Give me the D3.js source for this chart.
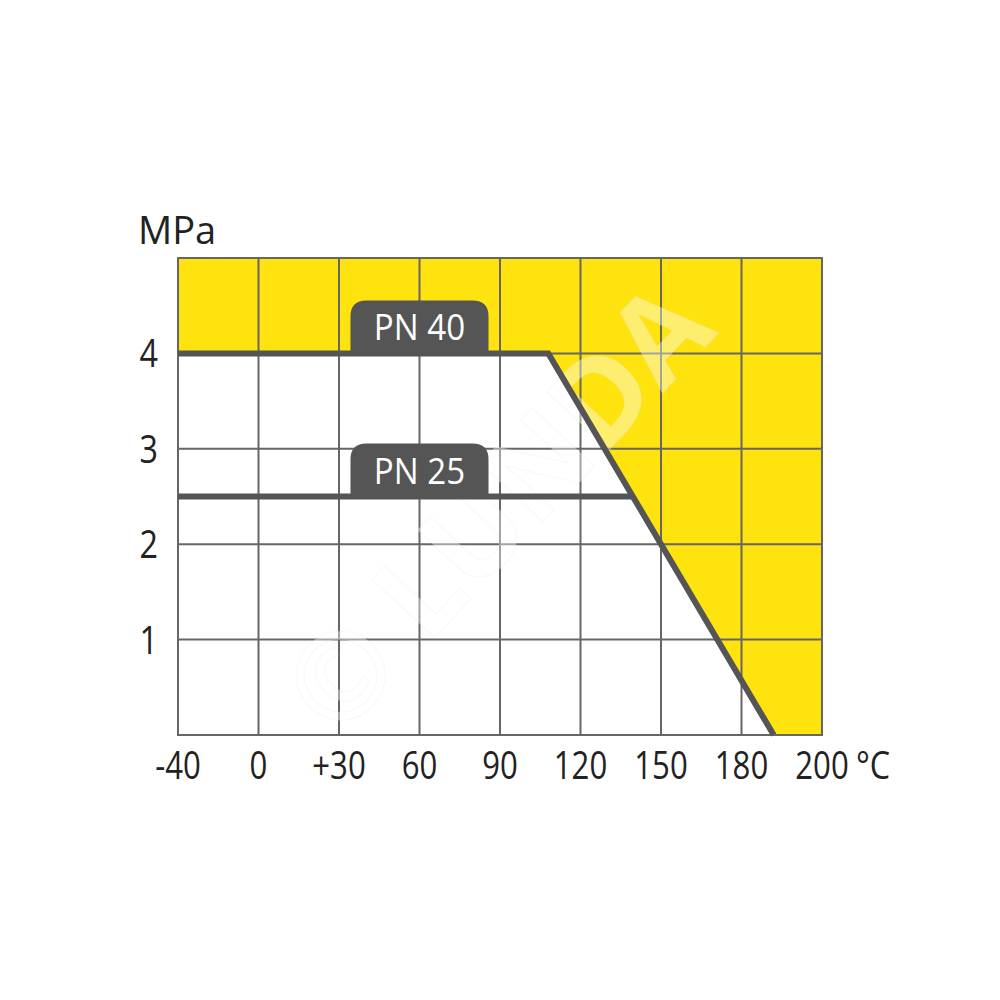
<!DOCTYPE html>
<html>
<head>
<meta charset="utf-8">
<script src="https://cdn.jsdelivr.net/npm/d3@7"></script>
<style>
  body { margin: 0; background: #fff; }
  text { font-family: 'Open Sans', 'Noto Sans', sans-serif; }
</style>
</head>
<body>
<div id="chart"></div>
<script>
// chart parameters
var width = 1000, height = 1000;
var plotLeft = 178, plotRight = 822, plotTop = 258, plotBottom = 735;

// data
var tempTicks = [-40, 0, 30, 60, 90, 120, 150, 180, 200];
var tempLabels = ['-40', '0', '+30', '60', '90', '120', '150', '180', '200'];
var pressTicks = [1, 2, 3, 4];
var pn40 = [[-40, 4], [108, 4], [188, 0]];
var pn25 = [[-40, 2.5], [139, 2.5]];
var labels = [{ text: 'PN 40', t: 60, p: 4 }, { text: 'PN 25', t: 60, p: 2.5 }];

var svg = d3.select('#chart')
    .append('svg')
    .attr('width', width)
    .attr('height', height);

// temperature axis is evenly spaced per tick, not linear
var xScale = d3.scaleLinear()
    .domain(tempTicks)
    .range(tempTicks.map(function(d, i){ return plotLeft + i * (plotRight - plotLeft) / (tempTicks.length - 1); }));

var yScale = d3.scaleLinear()
    .domain([0, 5])
    .range([plotBottom, plotTop]);

var line = d3.line()
    .x(function(d){ return xScale(d[0]); })
    .y(function(d){ return yScale(d[1]); });

// narrow text helper (font in the original is condensed)
function label(g, x, y, str, size, sx, anchor, fill){
    return g.append('text')
        .attr('transform', 'translate(' + x + ',' + y + ') scale(' + sx + ',1)')
        .attr('text-anchor', anchor)
        .attr('font-size', size)
        .attr('fill', fill)
        .text(str);
}

// yellow region above the PN 40 curve
var yellow = [[-40, 5], [200, 5], [200, 0]].concat(pn40.slice().reverse());
svg.append('path')
    .attr('d', line(yellow) + 'Z')
    .attr('fill', '#fee30f');

// grid
svg.append('g').selectAll('line')
    .data(tempTicks)
    .enter()
    .append('line')
    .attr('x1', function(d){ return xScale(d); })
    .attr('x2', function(d){ return xScale(d); })
    .attr('y1', plotTop)
    .attr('y2', plotBottom)
    .attr('stroke', '#666')
    .attr('stroke-width', 2);

svg.append('g').selectAll('line')
    .data([0, 1, 2, 3, 4, 5])
    .enter()
    .append('line')
    .attr('x1', plotLeft - 1)
    .attr('x2', plotRight + 1)
    .attr('y1', function(d){ return yScale(d); })
    .attr('y2', function(d){ return yScale(d); })
    .attr('stroke', '#666')
    .attr('stroke-width', 2);

// watermark
svg.append('text')
    .attr('transform', 'translate(505,515) rotate(-47)')
    .attr('text-anchor', 'middle')
    .attr('dominant-baseline', 'middle')
    .attr('font-size', 120)
    .attr('font-weight', 'bold')
    .attr('fill', '#fff')
    .attr('fill-opacity', 0.4)
    .attr('stroke', '#ddd')
    .attr('stroke-opacity', 0.2)
    .text('© LUNDA');

// curves
[pn25, pn40].forEach(function(s){
    svg.append('path')
        .attr('d', line(s))
        .attr('fill', 'none')
        .attr('stroke', '#555')
        .attr('stroke-width', 6)
        .attr('stroke-linejoin', 'miter');
});

// label tabs
var tabW = 138, tabH = 53, rad = 16;
labels.forEach(function(l){
    var cx = xScale(l.t), by = yScale(l.p), x0 = cx - tabW / 2, x1 = cx + tabW / 2, ty = by - tabH;
    svg.append('path')
        .attr('d', 'M' + x0 + ',' + by + 'V' + (ty + rad) + 'Q' + x0 + ',' + ty + ' ' + (x0 + rad) + ',' + ty +
            'H' + (x1 - rad) + 'Q' + x1 + ',' + ty + ' ' + x1 + ',' + (ty + rad) + 'V' + by + 'Z')
        .attr('fill', '#555');
    label(svg, cx, by - 13, l.text, 36, 0.92, 'middle', '#fff');
});

// axis labels
var yLab = svg.append('g');
pressTicks.forEach(function(d){
    label(yLab, 158, yScale(d) + 14, d, 38, 0.85, 'end', '#222');
});

var xLab = svg.append('g');
tempTicks.forEach(function(d, i){
    label(xLab, xScale(d), 779, tempLabels[i], 38, 0.82, 'middle', '#222');
});

label(svg, 856, 779, '°C', 38, 0.85, 'start', '#222');
label(svg, 138, 244, 'MPa', 38, 1, 'start', '#222');
</script>
</body>
</html>
